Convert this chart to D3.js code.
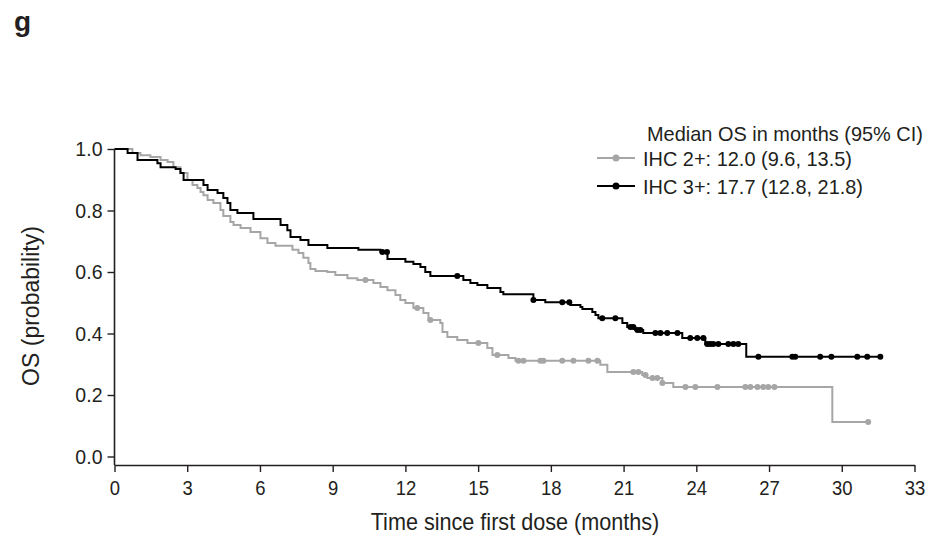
<!DOCTYPE html>
<html>
<head>
<meta charset="utf-8">
<script src="https://cdn.jsdelivr.net/npm/d3@7"></script>
<style>
  html, body { margin: 0; padding: 0; background: #fff; }
  svg { display: block; }
  text { font-family: "Liberation Sans", Arial, sans-serif; fill: #231f20; }
</style>
</head>
<body>
<svg id="chart" width="929" height="540"></svg>
<script>
// ---- data ----
const panelLabel = "g";
const xTicks = [0, 3, 6, 9, 12, 15, 18, 21, 24, 27, 30, 33];
const yTicks = [0.0, 0.2, 0.4, 0.6, 0.8, 1.0];
const legendTitle = "Median OS in months (95% CI)";
const seriesNames = ["IHC 2+: 12.0 (9.6, 13.5)", "IHC 3+: 17.7 (12.8, 21.8)"];
const seriesColors = ["#a6a6a6", "#000000"];

// IHC 2+ (gray) : event times and survival after each drop
const ihc2Times = [0, 0.74, 1.07, 1.48, 1.90, 2.19, 2.43, 2.72, 3.01, 3.22, 3.42, 3.55, 3.67, 3.84, 4.08, 4.37, 4.49, 4.78, 4.91, 5.20, 5.61, 6.02, 6.31, 6.64, 7.34, 7.59, 7.79, 8.00, 8.08, 8.29, 8.78, 9.11, 9.61, 10.02, 10.68, 10.97, 11.26, 11.59, 11.79, 12.00, 12.33, 12.74, 12.95, 13.44, 13.53, 13.73, 14.14, 14.56, 15.38, 15.59, 16.25, 16.54, 20.04, 20.33, 21.77, 21.98, 22.60, 23.05, 29.61];
const ihc2Surv  = [1.0, 0.987, 0.980, 0.974, 0.964, 0.958, 0.941, 0.922, 0.899, 0.883, 0.873, 0.860, 0.850, 0.834, 0.824, 0.802, 0.782, 0.763, 0.753, 0.743, 0.730, 0.710, 0.694, 0.685, 0.672, 0.662, 0.646, 0.629, 0.610, 0.603, 0.600, 0.590, 0.580, 0.574, 0.564, 0.551, 0.541, 0.525, 0.509, 0.499, 0.483, 0.467, 0.444, 0.434, 0.405, 0.389, 0.379, 0.369, 0.353, 0.330, 0.320, 0.311, 0.298, 0.275, 0.265, 0.255, 0.239, 0.226, 0.112];
const ihc2End = 31.09;
const ihc2Censor = [10.35, 12.49, 13.03, 15.01, 15.79, 16.66, 16.87, 17.57, 17.69, 18.47, 18.93, 19.55, 19.92, 21.40, 21.61, 21.90, 22.19, 22.39, 22.60, 23.55, 23.96, 24.87, 26.02, 26.23, 26.52, 26.76, 26.97, 27.22, 31.09];

// IHC 3+ (black)
const ihc3Times = [0, 0.54, 0.95, 1.77, 1.90, 2.52, 2.72, 2.85, 3.67, 3.84, 4.25, 4.49, 4.66, 4.78, 5.07, 5.73, 6.85, 7.13, 7.26, 7.67, 8.00, 8.78, 10.06, 10.97, 11.26, 12.00, 12.33, 12.62, 12.82, 13.03, 14.39, 14.68, 14.97, 15.38, 15.92, 16.04, 17.28, 17.77, 18.80, 19.22, 19.30, 19.71, 19.84, 19.96, 20.95, 21.15, 21.48, 21.81, 23.42, 24.37, 26.06];
const ihc3Surv  = [1.0, 0.987, 0.964, 0.954, 0.941, 0.935, 0.922, 0.899, 0.883, 0.867, 0.857, 0.841, 0.824, 0.802, 0.792, 0.772, 0.753, 0.736, 0.714, 0.704, 0.688, 0.678, 0.672, 0.665, 0.642, 0.633, 0.626, 0.616, 0.600, 0.587, 0.574, 0.564, 0.558, 0.548, 0.535, 0.528, 0.509, 0.502, 0.493, 0.486, 0.480, 0.470, 0.460, 0.450, 0.434, 0.421, 0.411, 0.402, 0.385, 0.366, 0.324];
const ihc3End = 31.59;
const ihc3Censor = [11.05, 11.24, 14.14, 17.28, 18.47, 18.76, 20.12, 20.66, 21.28, 21.40, 21.57, 21.69, 22.31, 22.52, 22.80, 23.22, 23.75, 24.04, 24.29, 24.45, 24.58, 24.70, 24.91, 25.32, 25.53, 25.73, 26.56, 27.96, 28.08, 29.11, 29.57, 30.64, 31.05, 31.59];

// ---- chart ----
const svg = d3.select("#chart");
const x = d3.scaleLinear().domain([0, 33]).range([114.5, 914.5]);
const y = d3.scaleLinear().domain([0, 1]).range([456.5, 149]);
const xAxisY = 465;
const font = "'Liberation Sans', Arial, sans-serif";

svg.append("text").attr("x", 14).attr("y", 31)
  .attr("font-size", 28).attr("font-weight", "bold").text(panelLabel);

// y axis
const yAxis = d3.axisLeft(y).tickValues(yTicks).tickFormat(d3.format(".1f")).tickSize(7).tickPadding(5).tickSizeOuter(0);
const gy = svg.append("g").attr("transform", `translate(${x(0)},0)`).call(yAxis);
gy.select(".domain").remove();
gy.append("line").attr("x1", 0).attr("x2", 0).attr("y1", y(1)).attr("y2", xAxisY)
  .attr("stroke", "#231f20").attr("stroke-width", 1.6);
gy.selectAll(".tick line").attr("stroke", "#231f20").attr("stroke-width", 1.4);
gy.selectAll(".tick text").attr("font-size", 21).attr("fill", "#231f20")
  .style("font-family", font)
  .attr("x", 0).attr("transform", "translate(-12,0) scale(0.93,1)");

// x axis
const xAxis = d3.axisBottom(x).tickValues(xTicks).tickSize(7).tickPadding(8).tickSizeOuter(0);
const gx = svg.append("g").attr("transform", `translate(0,${xAxisY})`).call(xAxis);
gx.select(".domain").attr("stroke", "#231f20").attr("stroke-width", 1.6);
gx.selectAll(".tick line").attr("stroke", "#231f20").attr("stroke-width", 1.4);
gx.selectAll(".tick text").attr("font-size", 21).attr("fill", "#231f20")
  .style("font-family", font)
  .attr("transform", "scale(0.88,1)").attr("x", 0);

// axis titles
svg.append("text").attr("transform", "translate(515,530) scale(0.94,1)").attr("text-anchor", "middle")
  .attr("font-size", 23).text("Time since first dose (months)");
svg.append("text").attr("transform", "translate(39,306) rotate(-90)").attr("text-anchor", "middle")
  .attr("font-size", 23).text("OS (probability)");

// curves
function stepPoints(times, surv, end) {
  const pts = times.map((t, i) => [t, surv[i]]);
  pts.push([end, surv[surv.length - 1]]);
  return pts;
}
function survAt(times, surv, t) {
  let v = surv[0];
  for (let i = 0; i < times.length; i++) { if (times[i] <= t) v = surv[i]; }
  return v;
}
const line = d3.line().x(d => x(d[0])).y(d => y(d[1])).curve(d3.curveStepAfter);

const series = [
  { times: ihc2Times, surv: ihc2Surv, end: ihc2End, censor: ihc2Censor, color: seriesColors[0] },
  { times: ihc3Times, surv: ihc3Surv, end: ihc3End, censor: ihc3Censor, color: seriesColors[1] }
];
series.forEach(s => {
  svg.append("path").datum(stepPoints(s.times, s.surv, s.end))
    .attr("d", line).attr("fill", "none").attr("stroke", s.color).attr("stroke-width", 2);
  svg.append("g").selectAll("circle").data(s.censor).join("circle")
    .attr("cx", d => x(d)).attr("cy", d => y(survAt(s.times, s.surv, d)))
    .attr("r", 3).attr("fill", s.color);
});

// legend
const lg = svg.append("g");
lg.append("text").attr("transform", "translate(647,141) scale(0.95,1)").attr("font-size", 21).text(legendTitle);
seriesNames.forEach((name, i) => {
  const yy = 158 + i * 28;
  lg.append("line").attr("x1", 597).attr("x2", 635).attr("y1", yy).attr("y2", yy)
    .attr("stroke", seriesColors[i]).attr("stroke-width", 2);
  lg.append("circle").attr("cx", 616).attr("cy", yy).attr("r", 3.5).attr("fill", seriesColors[i]);
  lg.append("text").attr("transform", `translate(643,${yy + 7.5}) scale(0.95,1)`).attr("font-size", 21).text(name);
});
</script>
</body>
</html>
